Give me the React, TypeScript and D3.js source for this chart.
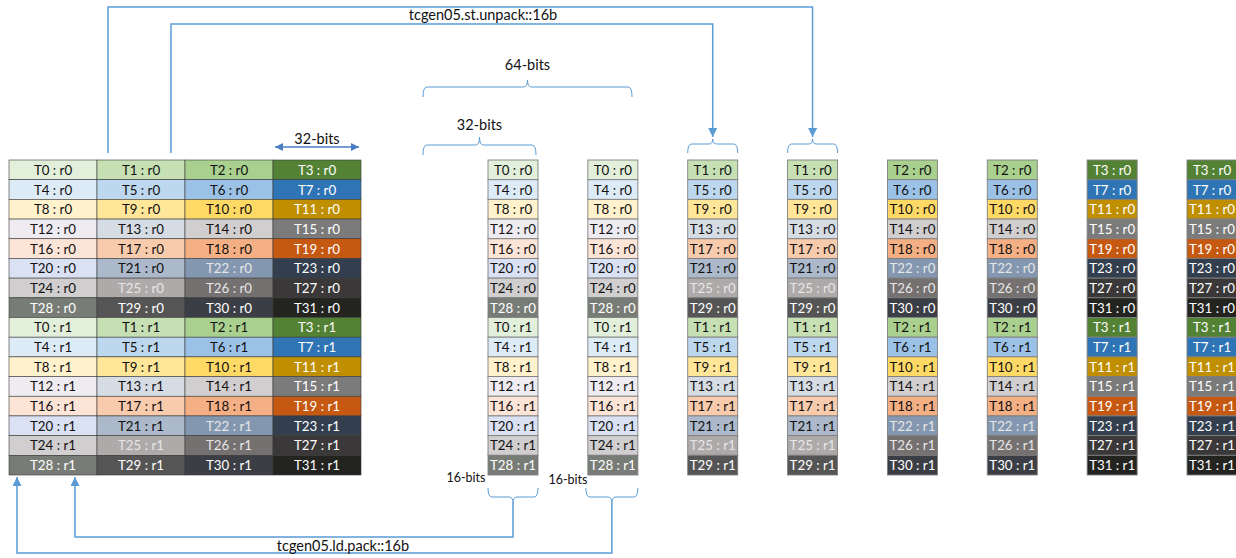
import React from "react";
import * as d3 from "d3";

// ---- data ----
const registers = ["r0", "r1"];
const laneRows = [
  [0, 1, 2, 3],
  [4, 5, 6, 7],
  [8, 9, 10, 11],
  [12, 13, 14, 15],
  [16, 17, 18, 19],
  [20, 21, 22, 23],
  [24, 25, 26, 27],
  [28, 29, 30, 31],
];
const rowColors = [
  ["#E2EFDA", "#C6E0B4", "#A9D08E", "#548235"],
  ["#DDEBF7", "#BDD7EE", "#9BC2E6", "#2F75B5"],
  ["#FFF2CC", "#FFE699", "#FFD966", "#BF8F00"],
  ["#EEEBF1", "#D6DCE4", "#D0CECE", "#7B7B7B"],
  ["#FCE4D6", "#F8CBAD", "#F4B084", "#C65911"],
  ["#D9E1F2", "#ACB9CA", "#8497B0", "#333F4F"],
  ["#D0CECE", "#AEAAAA", "#757171", "#3A3838"],
  ["#787C76", "#555555", "#3B3E45", "#23241F"],
];
const lightTextThreads = [3, 7, 11, 15, 19, 22, 23, 25, 26, 27, 28, 29, 30, 31];
// which source-grid column each unpacked column shows
const splitColumns = [0, 0, 1, 1, 2, 2, 3, 3];
const stLabel = "tcgen05.st.unpack::16b";
const ldLabel = "tcgen05.ld.pack::16b";

const BLUE = "#5B9BD5";
const FONT = "Lato, 'Open Sans', sans-serif";

const rowY = d3.scaleLinear().domain([0, 16]).range([160, 475]);
const gridX = d3.scaleLinear().domain([0, 4]).range([9, 361]);
const colX = d3.scaleLinear().domain([0, 7]).range([488, 1187]);
const COLW = 50;

function cellInfo(rowIdx: number, c: number) {
  const r = rowIdx % 8;
  const reg = registers[Math.floor(rowIdx / 8)];
  const t = laneRows[r][c];
  return {
    fill: rowColors[r][c],
    text: `T${t} : ${reg}`,
    light: lightTextThreads.includes(t),
    t,
  };
}

function braceDown(x0: number, x1: number, yFlat: number, depth: number, tip: number) {
  const xm = (x0 + x1) / 2;
  const p = d3.path();
  p.moveTo(x0, yFlat + depth);
  p.quadraticCurveTo(x0, yFlat, x0 + 4, yFlat);
  p.lineTo(xm - 4, yFlat);
  p.quadraticCurveTo(xm, yFlat, xm, yFlat - tip);
  p.quadraticCurveTo(xm, yFlat, xm + 4, yFlat);
  p.lineTo(x1 - 4, yFlat);
  p.quadraticCurveTo(x1, yFlat, x1, yFlat + depth);
  return p.toString();
}
function braceUp(x0: number, x1: number, yFlat: number, depth: number, tip: number) {
  const xm = (x0 + x1) / 2;
  const p = d3.path();
  p.moveTo(x0, yFlat - depth);
  p.quadraticCurveTo(x0, yFlat, x0 + 4, yFlat);
  p.lineTo(xm - 4, yFlat);
  p.quadraticCurveTo(xm, yFlat, xm, yFlat + tip);
  p.quadraticCurveTo(xm, yFlat, xm + 4, yFlat);
  p.lineTo(x1 - 4, yFlat);
  p.quadraticCurveTo(x1, yFlat, x1, yFlat - depth);
  return p.toString();
}

function textFill(info: { light: boolean; t: number }) {
  if (!info.light) return "#111";
  return info.t === 22 || info.t === 26 || info.t === 25 ? "#E6E6E6" : "#FFFFFF";
}

export default function App() {
  const rows = d3.range(16);
  const rh = rowY(1) - rowY(0);
  return (
    <svg
      width={1236}
      height={558}
      style={{ position: "absolute", left: 0, top: 0, background: "#fff" }}
      fontFamily={FONT}
    >
      <defs>
        <marker id="ah" viewBox="0 0 10 10" refX="10" refY="5" markerWidth="9" markerHeight="9" markerUnits="userSpaceOnUse" orient="auto">
          <path d="M0,0 L10,5 L0,10 z" fill={BLUE} />
        </marker>
        <marker id="ah2" viewBox="0 0 10 10" refX="10" refY="5" markerWidth="8" markerHeight="8" markerUnits="userSpaceOnUse" orient="auto-start-reverse">
          <path d="M0,0 L10,5 L0,10 z" fill="#4A7EC2" />
        </marker>
      </defs>

      {/* left grid */}
      {rows.map((ri) =>
        d3.range(4).map((c) => {
          const info = cellInfo(ri, c);
          return (
            <g key={`g${ri}-${c}`}>
              <rect x={gridX(c)} y={rowY(ri)} width={gridX(c + 1) - gridX(c)} height={rh} fill={info.fill} stroke="#3a3a3a" strokeWidth={0.6} />
              <text
                x={(gridX(c) + gridX(c + 1)) / 2}
                y={rowY(ri) + rh / 2}
                textAnchor="middle"
                dominantBaseline="central"
                fontSize={13.3}
                fill={textFill(info)}
              >
                {info.text}
              </text>
            </g>
          );
        })
      )}

      {/* split columns */}
      {splitColumns.map((sc, k) =>
        rows.map((ri) => {
          const info = cellInfo(ri, sc);
          return (
            <g key={`s${k}-${ri}`}>
              <rect x={colX(k)} y={rowY(ri)} width={COLW} height={rh} fill={info.fill} stroke="#7f7f7f" strokeWidth={0.9} />
              <text
                x={colX(k) + COLW / 2}
                y={rowY(ri) + rh / 2}
                textAnchor="middle"
                dominantBaseline="central"
                fontSize={13.3}
                fill={textFill(info)}
              >
                {info.text}
              </text>
            </g>
          );
        })
      )}

      {/* 32-bits double arrow over left grid */}
      <line x1={gridX(3) + 2} x2={gridX(4) - 2} y1={147} y2={147} stroke="#4A7EC2" strokeWidth={1.5} markerStart="url(#ah2)" markerEnd="url(#ah2)" />
      <text x={(gridX(3) + gridX(4)) / 2} y={138} textAnchor="middle" dominantBaseline="central" fontSize={14.5} fill="#111">32-bits</text>

      {/* 64-bits and 32-bits braces */}
      <path d={braceDown(423, 632, 87, 10, 7)} fill="none" stroke={BLUE} strokeWidth={1} />
      <text x={527.5} y={64} textAnchor="middle" dominantBaseline="central" fontSize={14.5} fill="#111">64-bits</text>
      <path d={braceDown(423, 536, 145, 10, 8)} fill="none" stroke={BLUE} strokeWidth={1} />
      <text x={479.5} y={124} textAnchor="middle" dominantBaseline="central" fontSize={14.5} fill="#111">32-bits</text>

      {/* braces over target columns */}
      <path d={braceDown(colX(2), colX(2) + COLW, 144, 9, 5)} fill="none" stroke={BLUE} strokeWidth={1} />
      <path d={braceDown(colX(3), colX(3) + COLW, 144, 9, 5)} fill="none" stroke={BLUE} strokeWidth={1} />

      {/* st.unpack arrows */}
      <path d={`M108,153 V7 H${colX(3) + COLW / 2} V137`} fill="none" stroke={BLUE} strokeWidth={1.5} markerEnd="url(#ah)" />
      <path d={`M171,153 V24 H${colX(2) + COLW / 2} V137`} fill="none" stroke={BLUE} strokeWidth={1.5} markerEnd="url(#ah)" />
      <text x={483} y={14} textAnchor="middle" dominantBaseline="central" fontSize={14.5} fill="#111">{stLabel}</text>

      {/* 16-bits braces below */}
      <path d={braceUp(colX(0), colX(0) + COLW, 497, 9, 6)} fill="none" stroke={BLUE} strokeWidth={1} />
      <path d={braceUp(colX(1) - 2, colX(1) + COLW, 497, 9, 6)} fill="none" stroke={BLUE} strokeWidth={1} />
      <text x={466} y={477} textAnchor="middle" dominantBaseline="central" fontSize={12.5} fill="#111">16-bits</text>
      <text x={568} y={479} textAnchor="middle" dominantBaseline="central" fontSize={12.5} fill="#111">16-bits</text>

      {/* ld.pack arrows */}
      <path d={`M${colX(0) + COLW / 2},503 V537 H75 V477`} fill="none" stroke={BLUE} strokeWidth={1.5} markerEnd="url(#ah)" />
      <path d={`M${colX(1) + COLW / 2 - 1},503 V553 H17 V477`} fill="none" stroke={BLUE} strokeWidth={1.5} markerEnd="url(#ah)" />
      <text x={343} y={545} textAnchor="middle" dominantBaseline="central" fontSize={14.5} fill="#111">{ldLabel}</text>
    </svg>
  );
}
